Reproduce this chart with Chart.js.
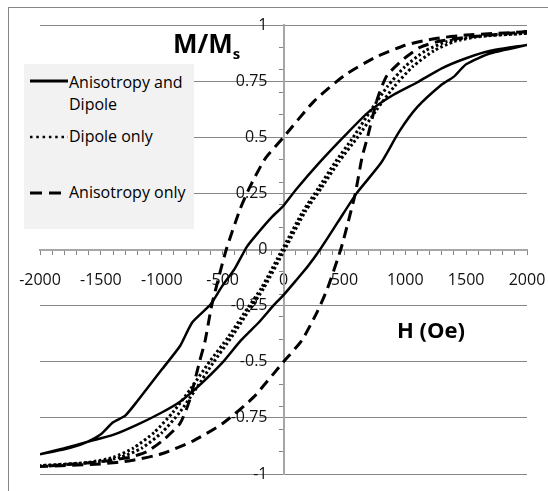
<!DOCTYPE html>
<html lang="en">
<head>
  <meta charset="UTF-8">
  <title>M/Ms vs H</title>
  <script src="https://cdn.jsdelivr.net/npm/chart.js"></script>
  <style>
    body { margin: 0; background: #fff; overflow: hidden; font-family: 'Open Sans', sans-serif; }
    #wrap { position: relative; width: 548px; height: 491px; overflow: hidden; }
    #frame {
      position: absolute; left: 8px; top: 7px; width: 700px; height: 700px;
      border-left: 1px solid #868686; border-top: 1px solid #868686;
    }
    canvas { position: absolute; left: 0; top: 0; }
    #legend {
      position: absolute; left: 24px; top: 64px; width: 170px; height: 165px;
      background: #f2f2f2;
    }
    .lg { position: absolute; left: 45px; font-size: 16px; line-height: 16px; color: #000; white-space: nowrap; }
    #legend svg { position: absolute; left: 0; top: 0; }
    .title { position: absolute; font-weight: bold; color: #000; white-space: nowrap; }
    #ytitle { left: 173px; top: 30px; font-size: 26px; line-height: 26px; }
    #ytitle span { font-size: 15px; position: relative; top: 6px; }
    #xtitle { left: 397px; top: 318px; font-size: 22px; line-height: 22px; }
  </style>
</head>
<body>
  <div id="wrap">
    <div id="frame"></div>
    <canvas id="chart" width="548" height="491"></canvas>
    <div id="legend">
      <svg width="170" height="165">
        <line x1="6" y1="17" x2="44" y2="17" stroke="#000" stroke-width="3"/>
        <line x1="6" y1="73" x2="44" y2="73" stroke="#000" stroke-width="2.5" stroke-dasharray="2.5 3.8"/>
        <line x1="6" y1="129" x2="38" y2="129" stroke="#000" stroke-width="3" stroke-dasharray="12 7"/>
      </svg>
      <div class="lg" style="top:10px">Anisotropy and</div>
      <div class="lg" style="top:32px">Dipole</div>
      <div class="lg" style="top:64px">Dipole only</div>
      <div class="lg" style="top:120px">Anisotropy only</div>
    </div>
    <div class="title" id="ytitle">M/M<span>s</span></div>
    <div class="title" id="xtitle">H (Oe)</div>
  </div>

  <script>
    // Anisotropy and Dipole: descending branch, then ascending branch
    const adDownH = [2000, 1700, 1500, 1300, 1100, 900, 700, 500, 300, 100, 0, -100, -200, -300, -400, -500, -600, -750, -850, -1000, -1200, -1300, -1400, -1500, -1650, -1800, -2000];
    const adDownM = [0.911, 0.885, 0.852, 0.807, 0.745, 0.688, 0.613, 0.505, 0.39, 0.265, 0.195, 0.142, 0.08, 0.013, -0.085, -0.16, -0.245, -0.325, -0.43, -0.535, -0.675, -0.74, -0.77, -0.823, -0.866, -0.89, -0.912];
    const adUpH = [-2000, -1800, -1600, -1400, -1200, -1000, -850, -700, -500, -350, -200, -80, 0, 100, 200, 300, 450, 600, 800, 950, 1100, 1300, 1400, 1500, 1700, 2000];
    const adUpM = [-0.912, -0.885, -0.855, -0.826, -0.78, -0.726, -0.678, -0.61, -0.503, -0.405, -0.323, -0.248, -0.203, -0.14, -0.075, 0.0, 0.125, 0.25, 0.385, 0.525, 0.635, 0.735, 0.77, 0.825, 0.874, 0.911];

    // Dipole only (narrow loop)
    const dDownH = [2000, 1560, 1340, 1165, 998, 852, 718, 572, 426, 288, 160, -10, -180, -312, -454, -608, -762, -908, -1062, -1235, -1400, -1600, -2000];
    const dDownM = [0.963, 0.948, 0.926, 0.885, 0.815, 0.725, 0.62, 0.50, 0.39, 0.275, 0.17, 0, -0.17, -0.275, -0.39, -0.50, -0.62, -0.725, -0.815, -0.885, -0.926, -0.948, -0.963];
    const dUpH = [-2000, -1560, -1340, -1165, -998, -852, -718, -572, -426, -288, -160, 10, 180, 312, 454, 608, 762, 908, 1062, 1235, 1400, 1600, 2000];
    const dUpM = [-0.963, -0.948, -0.926, -0.885, -0.815, -0.725, -0.62, -0.50, -0.39, -0.275, -0.17, 0, 0.17, 0.275, 0.39, 0.50, 0.62, 0.725, 0.815, 0.885, 0.926, 0.948, 0.963];

    // Anisotropy only
    const aDownH = [2000, 1500, 1250, 1000, 750, 500, 250, 0, -150, -275, -360, -470, -530, -590, -645, -690, -770, -850, -990, -1120, -1260, -1500, -2000];
    const aDownM = [0.97, 0.955, 0.94, 0.91, 0.855, 0.775, 0.66, 0.5, 0.405, 0.28, 0.175, 0.0, -0.12, -0.25, -0.41, -0.5, -0.67, -0.775, -0.85, -0.9, -0.925, -0.945, -0.967];
    const aUpH = [-2000, -1500, -1250, -1000, -750, -500, -250, 0, 150, 275, 360, 470, 530, 590, 645, 690, 770, 850, 990, 1120, 1260, 1500, 2000];
    const aUpM = [-0.967, -0.955, -0.94, -0.91, -0.855, -0.775, -0.66, -0.5, -0.405, -0.28, -0.175, 0.0, 0.12, 0.25, 0.41, 0.5, 0.67, 0.775, 0.85, 0.9, 0.925, 0.945, 0.97];

    const yMajorTicks = [-1, -0.75, -0.5, -0.25, 0, 0.25, 0.5, 0.75, 1];
    const yMinorTicks = [-0.9, -0.8, -0.7, -0.6, -0.4, -0.3, -0.2, -0.1, 0.1, 0.2, 0.3, 0.4, 0.6, 0.7, 0.8, 0.9];

    function loop(h1, m1, h2, m2) {
      const pts = h1.map((h, i) => ({ x: h, y: m1[i] }));
      return pts.concat(h2.map((h, i) => ({ x: h, y: m2[i] })));
    }

    // axes sit inside the plot, so they should not push the plot area in
    function noPadding(axis) {
      axis.paddingLeft = axis.paddingRight = axis.paddingTop = axis.paddingBottom = 0;
    }

    Chart.defaults.font.family = "'Open Sans', sans-serif";
    Chart.defaults.font.size = 16;
    Chart.defaults.color = '#111';

    const gridGray = '#868686';
    const yTicks = yMajorTicks.concat(yMinorTicks).sort((a, b) => a - b);

    new Chart(document.getElementById('chart'), {
      type: 'scatter',
      data: {
        datasets: [
          {
            label: 'Anisotropy and Dipole',
            data: loop(adDownH, adDownM, adUpH, adUpM),
            showLine: true, borderColor: '#000', borderWidth: 2.5,
            pointRadius: 0, tension: 0.2
          },
          {
            label: 'Dipole only',
            data: loop(dDownH, dDownM, dUpH, dUpM),
            showLine: true, borderColor: '#000', borderWidth: 3, borderDash: [2.5, 2.5],
            pointRadius: 0, tension: 0.2
          },
          {
            label: 'Anisotropy only',
            data: loop(aDownH, aDownM, aUpH, aUpM),
            showLine: true, borderColor: '#000', borderWidth: 3, borderDash: [11, 6.5],
            pointRadius: 0, tension: 0.2
          }
        ]
      },
      options: {
        responsive: false,
        animation: false,
        layout: { padding: { left: 40, top: 25, right: 21, bottom: 17 } },
        plugins: { legend: { display: false }, tooltip: { enabled: false } },
        scales: {
          x: {
            type: 'linear', min: -2000, max: 2000,
            position: { y: 0 },
            afterFit: noPadding,
            border: { display: true, color: '#a6a6a6', width: 2 },
            grid: { drawOnChartArea: false, color: gridGray, tickLength: 4 },
            ticks: {
              stepSize: 100, autoSkip: false, maxRotation: 0, padding: 17,
              callback: v => (v % 500 === 0 ? String(v) : '')
            }
          },
          y: {
            type: 'linear', min: -1, max: 1,
            position: { x: 0 },
            afterFit: noPadding,
            border: { display: true, color: '#a6a6a6', width: 2 },
            afterBuildTicks: axis => { axis.ticks = yTicks.map(v => ({ value: v })); },
            grid: {
              tickLength: 4,
              color: c => (yMajorTicks.includes(c.tick.value) ? gridGray : 'rgba(0,0,0,0)'),
              tickColor: gridGray
            },
            ticks: {
              autoSkip: false,
              // labels hug the axis when it is placed by value, so pad them with spaces
              callback: v => (yMajorTicks.includes(v) ? String(v) + '\u2002\u2002' : '')
            }
          }
        }
      }
    });
  </script>
</body>
</html>
